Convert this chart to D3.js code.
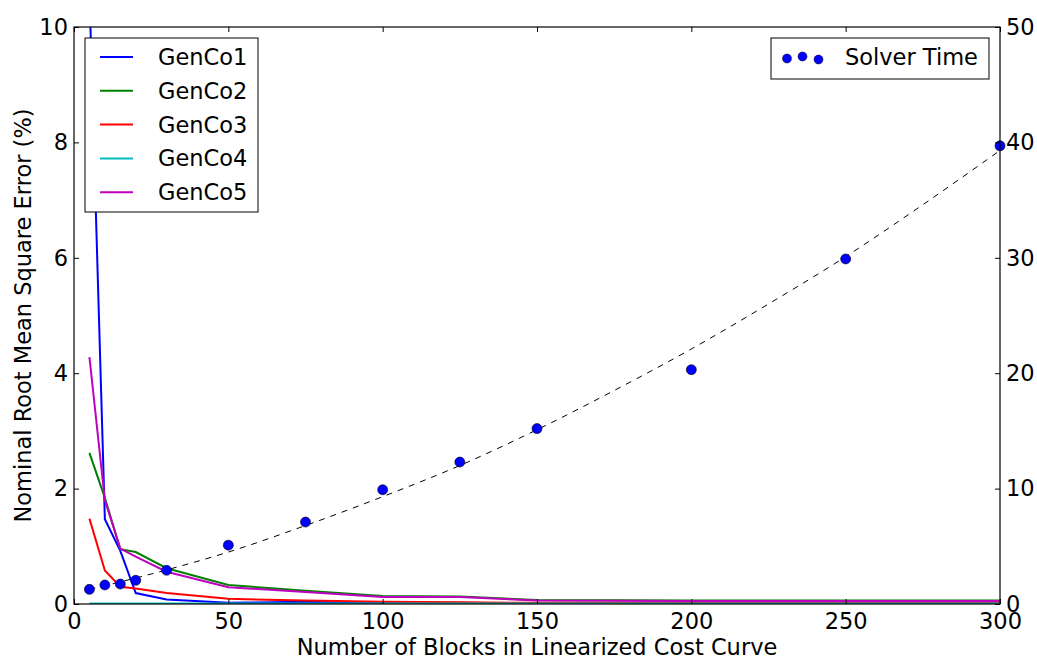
<!DOCTYPE html>
<html>
<head>
<meta charset="utf-8">
<script src="https://cdn.jsdelivr.net/npm/d3@7"></script>
<style>
  body { margin: 0; background: #fff; }
  text { font-family: "DejaVu Sans", sans-serif; fill: #000; }
</style>
</head>
<body>
<svg id="chart"></svg>
<script>
// block counts on the x axis
var blocks = [5, 10, 15, 20, 30, 50, 75, 100, 125, 150, 200, 250, 300]

// nominal RMSE (%) per GenCo
var genco1 = [10.6, 1.47, 0.92, 0.19, 0.08, 0.02, 0.04, 0.02, 0.02, 0.01, 0.01, 0.01, 0.01]
var genco2 = [2.62, 1.84, 0.95, 0.90, 0.62, 0.33, 0.23, 0.14, 0.13, 0.07, 0.06, 0.06, 0.06]
var genco3 = [1.48, 0.58, 0.30, 0.27, 0.19, 0.09, 0.06, 0.04, 0.03, 0.02, 0.02, 0.02, 0.02]
var genco4 = [0.01, 0.01, 0.01, 0.01, 0.01, 0.01, 0.01, 0.01, 0.01, 0.01, 0.01, 0.01, 0.01]
var genco5 = [4.28, 1.80, 0.96, 0.82, 0.56, 0.29, 0.21, 0.12, 0.12, 0.06, 0.05, 0.05, 0.05]

// solver time (right axis)
var solverTime = [1.27, 1.65, 1.73, 2.05, 2.92, 5.1, 7.1, 9.9, 12.3, 15.2, 20.3, 29.9, 39.7]

// dashed trend through the solver times
var trendX = [5, 25, 50, 75, 100, 125, 150, 175, 200, 225, 250, 275, 300]
var trendY = [1.26, 2.6, 4.5, 6.8, 9.3, 12.0, 15.1, 18.5, 22.1, 26.0, 30.1, 34.6, 39.3]

var seriesNames = ["GenCo1", "GenCo2", "GenCo3", "GenCo4", "GenCo5"]
var seriesColors = ["#0000ff", "#008000", "#ff0000", "#00bfbf", "#bf00bf"]
var xTicks = [0, 50, 100, 150, 200, 250, 300]
var yTicks = [0, 2, 4, 6, 8, 10]
var y2Ticks = [0, 10, 20, 30, 40, 50]

var dimensions = {
  width: 1037,
  height: 660,
  margin: { top: 27, bottom: 56, right: 37, left: 74 }
}
var W = dimensions.width, H = dimensions.height, m = dimensions.margin
var fs = "22.5px"

var svg = d3.select("#chart")
  .attr("width", W)
  .attr("height", H)

var xScale = d3.scaleLinear().domain([0, 300]).range([m.left, W - m.right])
var yScale = d3.scaleLinear().domain([0, 10]).range([H - m.bottom, m.top])
var y2Scale = d3.scaleLinear().domain([0, 50]).range([H - m.bottom, m.top])

svg.append("defs").append("clipPath").attr("id", "plot")
  .append("rect")
  .attr("x", m.left).attr("y", m.top)
  .attr("width", W - m.left - m.right)
  .attr("height", H - m.top - m.bottom)

var allSeries = [genco1, genco2, genco3, genco4, genco5]
var lineGen = d3.line()
  .x((d, i) => xScale(blocks[i]))
  .y(d => yScale(d))

var plot = svg.append("g").attr("clip-path", "url(#plot)")
allSeries.forEach(function (s, k) {
  plot.append("path")
    .datum(s)
    .attr("d", lineGen)
    .attr("fill", "none")
    .attr("stroke", seriesColors[k])
    .attr("stroke-width", 2)
})

// dashed trend + solver time points on the twin axis
var trendLine = d3.line()
  .x((d, i) => xScale(trendX[i]))
  .y(d => y2Scale(d))
  .curve(d3.curveMonotoneX)
plot.append("path")
  .datum(trendY)
  .attr("d", trendLine)
  .attr("fill", "none")
  .attr("stroke", "#000")
  .attr("stroke-width", 1)
  .attr("stroke-dasharray", "6,6")

svg.append("g").selectAll("circle")
  .data(solverTime)
  .enter()
  .append("circle")
  .attr("cx", (d, i) => xScale(blocks[i]))
  .attr("cy", d => y2Scale(d))
  .attr("r", 5)
  .attr("fill", "#0000ff")
  .attr("stroke", "#000")
  .attr("stroke-width", 0.6)

// axes, ticks pointing inward
var xAxisB = d3.axisBottom(xScale).tickValues(xTicks).tickSizeInner(-5).tickSizeOuter(0).tickPadding(9)
var xAxisT = d3.axisTop(xScale).tickValues(xTicks).tickSizeInner(-5).tickSizeOuter(0).tickFormat("")
var yAxisL = d3.axisLeft(yScale).tickValues(yTicks).tickSizeInner(-5).tickSizeOuter(0).tickPadding(6)
var yAxisR = d3.axisRight(y2Scale).tickValues(y2Ticks).tickSizeInner(-5).tickSizeOuter(0).tickPadding(6)

function styleAxis(g) {
  g.select(".domain").remove()
  g.selectAll("line").attr("stroke", "#000")
  g.selectAll("text").style("font-size", fs).attr("font-family", "DejaVu Sans")
}
svg.append("g").attr("transform", `translate(0,${H - m.bottom})`).call(xAxisB).call(styleAxis)
svg.append("g").attr("transform", `translate(0,${m.top})`).call(xAxisT).call(styleAxis)
svg.append("g").attr("transform", `translate(${m.left},0)`).call(yAxisL).call(styleAxis)
svg.append("g").attr("transform", `translate(${W - m.right},0)`).call(yAxisR).call(styleAxis)

// frame
svg.append("rect")
  .attr("x", m.left).attr("y", m.top)
  .attr("width", W - m.left - m.right)
  .attr("height", H - m.top - m.bottom)
  .attr("fill", "none")
  .attr("stroke", "#000")
  .attr("stroke-width", 1.2)

// axis titles
svg.append("text")
  .attr("x", (m.left + W - m.right) / 2)
  .attr("y", 655)
  .attr("text-anchor", "middle")
  .style("font-size", fs)
  .text("Number of Blocks in Linearized Cost Curve")
svg.append("text")
  .attr("transform", `translate(31,${(m.top + H - m.bottom) / 2}) rotate(-90)`)
  .attr("text-anchor", "middle")
  .style("font-size", fs)
  .text("Nominal Root Mean Square Error (%)")

// legend for GenCo lines
var leg = svg.append("g")
leg.append("rect")
  .attr("x", 85).attr("y", 38).attr("width", 173).attr("height", 174)
  .attr("fill", "#fff").attr("stroke", "#000").attr("stroke-width", 1)
seriesNames.forEach(function (name, k) {
  var yy = 57 + k * 33.8
  leg.append("line")
    .attr("x1", 100).attr("x2", 133).attr("y1", yy).attr("y2", yy)
    .attr("stroke", seriesColors[k]).attr("stroke-width", 2)
  leg.append("text")
    .attr("x", 158).attr("y", yy + 8)
    .style("font-size", fs)
    .text(name)
})

// legend for solver time
var leg2 = svg.append("g")
leg2.append("rect")
  .attr("x", 771).attr("y", 38).attr("width", 218).attr("height", 41)
  .attr("fill", "#fff").attr("stroke", "#000").attr("stroke-width", 1)
var legDots = [[787, 58.5], [802.5, 56.5], [818.5, 59.5]]
leg2.selectAll("circle")
  .data(legDots)
  .enter()
  .append("circle")
  .attr("cx", d => d[0]).attr("cy", d => d[1])
  .attr("r", 4.5)
  .attr("fill", "#0000ff").attr("stroke", "#000").attr("stroke-width", 0.5)
leg2.append("text")
  .attr("x", 845).attr("y", 65)
  .style("font-size", fs)
  .text("Solver Time")
</script>
</body>
</html>
